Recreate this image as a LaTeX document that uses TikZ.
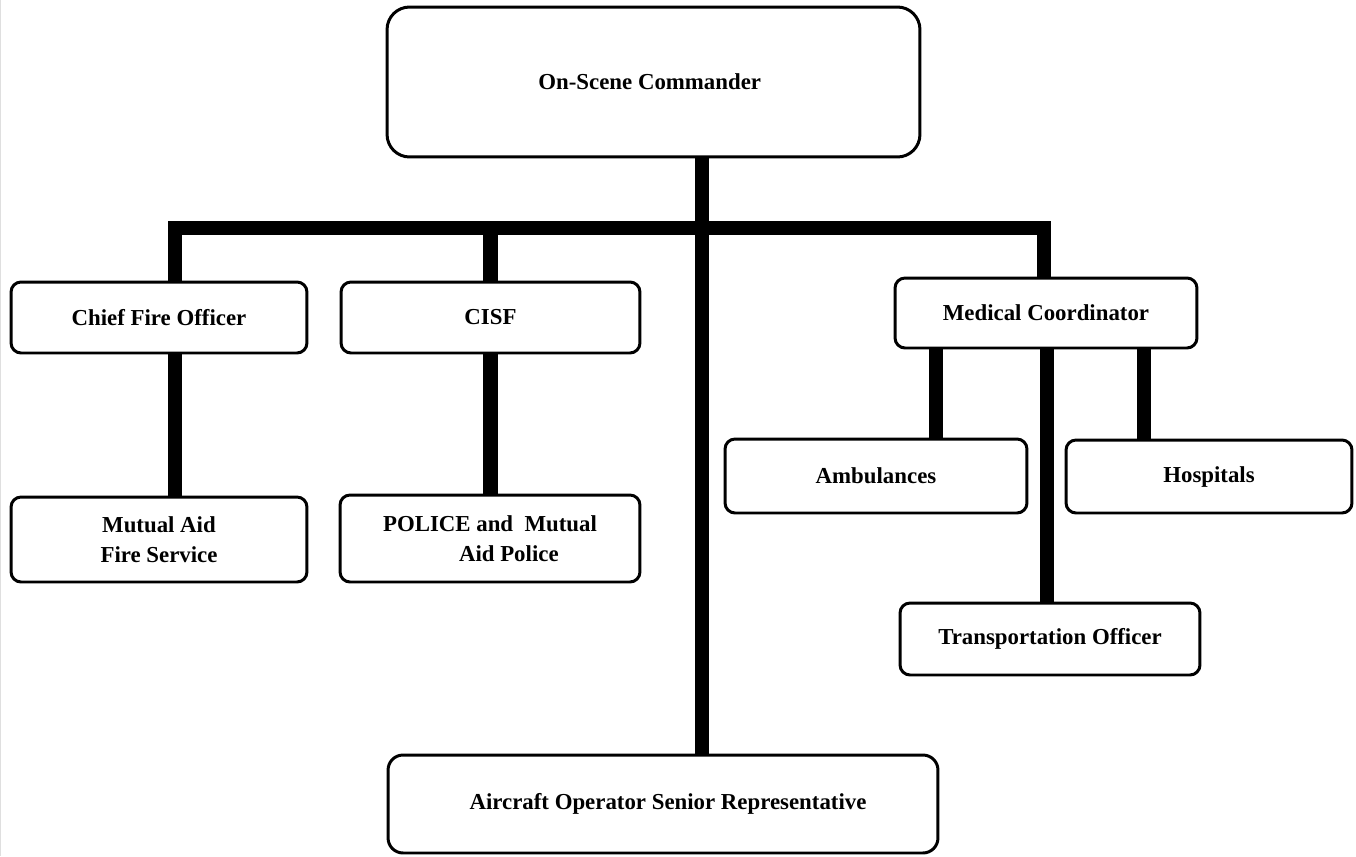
\documentclass[tikz,border=0pt]{standalone}
\usepackage{fontspec}
\setmainfont{Liberation Serif}
\tikzset{
  post/.style={draw,line width=1.7pt,rounded corners=0.2cm,align=center,inner sep=2pt},
  link/.style={line width=8pt},
}
\begin{document}
\begin{tikzpicture}[x=0.02cm,y=-0.02cm,every node/.style={font=\bfseries\fontsize{13}{17}\selectfont}]
% incident command chart, coordinates in pixels
\useasboundingbox (0,0) rectangle (1356,856);
\draw[gray!25,line width=0.6pt] (0.5,0) -- (0.5,856);
\node[post,rounded corners=0.45cm,minimum width=10.66cm,minimum height=3cm] (cmd) at (653.5,82) {\hspace*{-0.15cm}On-Scene Commander};
\node[post,minimum width=5.92cm,minimum height=1.42cm] (cfo) at (159,317.5) {Chief Fire Officer};
\node[post,minimum width=5.98cm,minimum height=1.42cm] (cisf) at (490.5,317.5) {CISF};
\node[post,minimum width=6.04cm,minimum height=1.4cm] (med) at (1046,313) {Medical Coordinator};
\node[post,minimum width=5.92cm,minimum height=1.7cm] (mafs) at (159,539.5) {Mutual Aid\\Fire Service};
\node[post,align=left,minimum width=6cm,minimum height=1.74cm] (pol) at (490,538.5) {POLICE and~~Mutual\\\hspace*{1.52cm}Aid Police};
\node[post,minimum width=6.04cm,minimum height=1.48cm] (amb) at (876,476) {Ambulances};
\node[post,minimum width=5.72cm,minimum height=1.46cm] (hosp) at (1209,476.5) {Hospitals};
\node[post,minimum width=6cm,minimum height=1.44cm] (trans) at (1050,639) {Transportation Officer};
\node[post,rounded corners=0.3cm,minimum width=11cm,minimum height=1.96cm] (acft) at (663,804) {\hspace*{0.2cm}Aircraft Operator Senior Representative};
% bus and drops
\coordinate (hub) at (702,228);
\coordinate (barL) at (175,228);
\coordinate (barR) at (1044,228);
\coordinate (tap-amb) at (936,400);
\coordinate (tap-trans) at (1047,400);
\coordinate (tap-hosp) at (1144,400);
\draw[link] (cmd.south -| hub) -- (acft.north -| hub);
\draw[link] (cfo.north -| barL) -- (barL) -- (barR) -- (med.north -| barR);
\draw[link] (cisf.north) -- (cisf.north |- hub);
\draw[link] (cfo.south -| barL) -- (mafs.north -| barL);
\draw[link] (cisf.south) -- (pol.north -| cisf.south);
\foreach \t in {amb,trans,hosp}
  \draw[link] (med.south -| tap-\t) -- (\t.north -| tap-\t);
\end{tikzpicture}
\end{document}
